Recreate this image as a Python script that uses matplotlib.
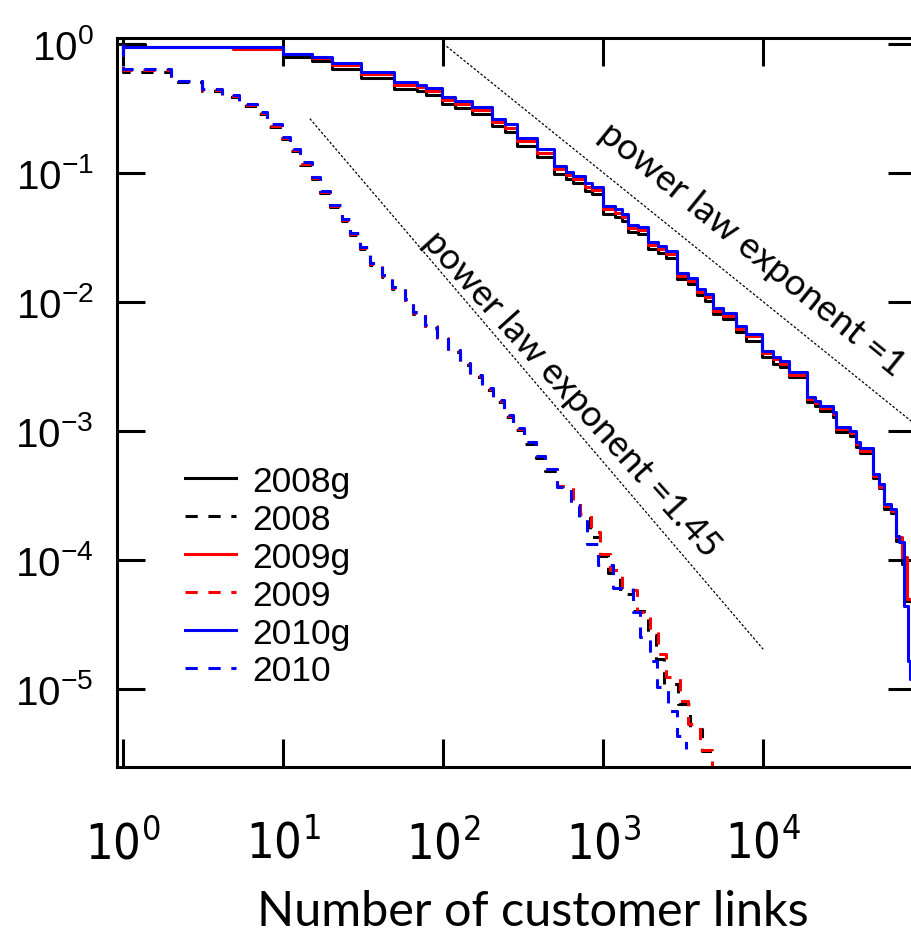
import matplotlib
matplotlib.use("Agg")
import matplotlib.pyplot as plt
from matplotlib.ticker import NullLocator

# solid curves ("g" datasets), step CCDF: x = break points, y = level after each break
x_2008g = [1, 1.37, 10, 15.2, 20.2, 30.7, 49.4, 68.8, 78.3, 98.6, 119, 152, 202, 244, 290, 387, 494, 587, 649, 772,
           854, 1000, 1189, 1315, 1433, 1655, 1910, 2206, 2476, 2900, 3397, 3868, 4340, 4870, 5623, 6776, 7830, 9860,
           11550, 12770, 14540, 18840, 21130, 22700, 27380, 28580, 34970, 38120, 40370, 48700, 53090, 57040, 63100,
           67760, 73300, 77500, 95000]
y_2008g = [1.0, 0.948, 0.78, 0.73, 0.64, 0.545, 0.445, 0.43, 0.40, 0.34, 0.318, 0.285, 0.228, 0.205, 0.162, 0.132, 0.098,
           0.089, 0.083, 0.072, 0.068, 0.048, 0.0455, 0.042, 0.0345, 0.0334, 0.0257, 0.0238, 0.0218, 0.0149, 0.0136,
           0.0112, 0.0102, 0.0080, 0.0073, 0.0058, 0.0050, 0.0037, 0.0033, 0.0031, 0.0026, 0.00167, 0.00156, 0.00142,
           0.00127, 0.00098, 0.00091, 0.00075, 0.00067, 0.00043, 0.00036, 0.00025, 0.00023, 0.000140, 0.0000935,
           0.000048, 0.000045]

x_2009g = [1, 4.9, 10, 15.2, 20.2, 30.7, 49.4, 68.8, 78.3, 98.6, 119, 152, 202, 244, 290, 387, 494, 587, 649, 772,
           854, 1000, 1189, 1315, 1433, 1655, 1910, 2206, 2476, 2900, 3397, 3868, 4340, 4870, 5623, 6776, 7830, 9860,
           11550, 12770, 14540, 18840, 21130, 22700, 27380, 28580, 34970, 38120, 40370, 48700, 53090, 57040, 63100,
           67760, 73300, 78900, 95000]
y_2009g = [0.948, 0.90, 0.837, 0.77, 0.68, 0.58, 0.48, 0.46, 0.43, 0.365, 0.34, 0.305, 0.245, 0.222, 0.175, 0.143, 0.106,
           0.096, 0.089, 0.078, 0.073, 0.052, 0.049, 0.045, 0.037, 0.0358, 0.0275, 0.0255, 0.0233, 0.0158, 0.0145, 0.0119,
           0.0108, 0.0085, 0.0078, 0.0062, 0.0054, 0.0040, 0.0036, 0.0033, 0.0027, 0.00176, 0.00164, 0.00149, 0.00134,
           0.00103, 0.00096, 0.00079, 0.00070, 0.00045, 0.00037, 0.00026, 0.00024, 0.000150, 0.000105, 0.000050,
           0.000050]

x_2010g = [1, 10, 15.2, 20.2, 30.7, 49.4, 68.8, 78.3, 98.6, 119, 152, 202, 244, 290, 387, 494, 587, 649, 772, 854,
           1000, 1189, 1315, 1433, 1655, 1910, 2206, 2476, 2900, 3397, 3868, 4340, 4870, 5623, 6776, 7830, 9860, 11550,
           12770, 14540, 18840, 21130, 22700, 27380, 28580, 34970, 38120, 40370, 48700, 53090, 57040, 63100, 67760,
           70800, 76040, 80560, 82950, 85000]
y_2010g = [0.948, 0.837, 0.793, 0.712, 0.607, 0.507, 0.481, 0.456, 0.388, 0.361, 0.325, 0.262, 0.236, 0.187, 0.153,
           0.113, 0.102, 0.0948, 0.0836, 0.0779, 0.0555, 0.0526, 0.0481, 0.0395, 0.0381, 0.0292, 0.0272, 0.0248, 0.0168,
           0.0153, 0.0126, 0.0115, 0.00898, 0.00822, 0.00652, 0.00565, 0.00417, 0.00375, 0.00349, 0.00287, 0.00184,
           0.00171, 0.00156, 0.00140, 0.00107, 0.00100, 0.000822, 0.000738, 0.000464, 0.000388, 0.000272, 0.000248,
           0.000154, 0.000138, 4.4e-5, 1.65e-5, 1.2e-5, 1.2e-5]

# dashed curves
x_2008 = [1, 1, 2.0, 3.12, 4.16, 5.31, 6.88, 7.94, 9.86, 11.06, 12.77, 15.2, 17.0, 19.7, 23.4, 26.2, 30.3, 35.0, 41.6,
          48.0, 57.9, 64.9, 77.2, 91.7, 107.5, 127.7, 147.5, 175.2, 205, 240, 274, 321, 381, 434,
          516, 631, 718, 829, 957, 1074, 1277, 1540, 1910, 2143, 2405, 2943, 3497, 4159, 4800]
y_2008 = [1.0, 0.60, 0.50, 0.43, 0.385, 0.328, 0.284, 0.225, 0.182, 0.146, 0.114, 0.089, 0.069, 0.054, 0.042, 0.0328,
          0.0256, 0.0193, 0.0155, 0.0125, 0.0100, 0.0080, 0.0063, 0.0051, 0.0041, 0.00323, 0.00262, 0.00207, 0.00167,
          0.00128, 0.00101, 0.00079, 0.00062, 0.00049,
          0.000375, 0.000282, 0.000219, 0.000151, 0.000107, 7.93e-5, 5.45e-5, 4.02e-5, 2.62e-5, 1.71e-5, 1.09e-5,
          7.66e-6, 4.9e-6, 3.3e-6, 2.19e-6]

x_2009 = [1, 1, 2.0, 3.12, 4.16, 5.31, 6.88, 7.94, 9.86, 11.06, 12.77, 15.2, 17.0, 19.7, 23.4, 26.2, 30.3, 35.0, 41.6,
          48.0, 57.9, 64.9, 77.2, 91.7, 107.5, 127.7, 147.5, 175.2, 205, 240, 274, 321, 381, 434, 516, 649, 718, 841,
          957, 1106, 1315, 1631, 1967, 2206, 2476, 3030, 3397, 4037, 4800]
y_2009 = [1.0, 0.62, 0.51, 0.44, 0.395, 0.336, 0.29, 0.231, 0.186, 0.150, 0.117, 0.091, 0.071, 0.0552, 0.0430, 0.0336,
          0.0262, 0.0197, 0.0159, 0.0128, 0.0103, 0.0082, 0.0065, 0.00525, 0.00418, 0.00331, 0.00268, 0.00212, 0.00171,
          0.00131, 0.00104, 0.000815, 0.000635, 0.000505, 0.000375, 0.000282, 0.000227, 0.000165, 0.000111, 8.35e-5,
          5.85e-5, 3.95e-5, 2.82e-5, 1.87e-5, 1.24e-5, 8.07e-6, 5.36e-6, 3.37e-6, 2.19e-6]

x_2010 = [1, 1, 2.0, 3.12, 4.16, 5.31, 6.88, 7.94, 9.86, 11.06, 12.77, 15.2, 17.0, 19.7, 23.4, 26.2, 30.3, 35.0, 41.6,
          48.0, 57.9, 64.9, 77.2, 91.7, 107.5, 127.7, 147.5, 175.2, 205, 240, 274, 321, 381, 434, 516, 631, 708, 794,
          931, 1155, 1540, 1702, 1967, 2175, 2547, 2900, 3303]
y_2010 = [1.0, 0.63, 0.517, 0.448, 0.402, 0.343, 0.297, 0.236, 0.190, 0.153, 0.120, 0.0931, 0.0725, 0.0565, 0.0440,
          0.0343, 0.0267, 0.0201, 0.0162, 0.0131, 0.0105, 0.00836, 0.00663, 0.00535, 0.00425, 0.00337, 0.00272, 0.00215,
          0.00174, 0.00133, 0.00105, 0.000822, 0.000640, 0.000507, 0.000368, 0.000267, 0.000201, 0.000133, 9.15e-5,
          6.07e-5, 3.95e-5, 2.53e-5, 1.65e-5, 1.04e-5, 6.75e-6, 4.32e-6, 3.43e-6]

# reference power-law guide lines
guide1_x = [100, 90000]
guide1_y = [1.0, 0.00111]
guide2_x = [14.7, 10000]
guide2_y = [0.262, 2.03e-5]

xticks = [1, 10, 100, 1000, 10000]
xticklabels = [r"$\mathregular{10^{0}}$", r"$\mathregular{10^{1}}$", r"$\mathregular{10^{2}}$",
               r"$\mathregular{10^{3}}$", r"$\mathregular{10^{4}}$"]
yticks = [1e-5, 1e-4, 1e-3, 1e-2, 1e-1, 1]
yticklabels = [r"$\mathregular{10^{-5}}$", r"$\mathregular{10^{-4}}$", r"$\mathregular{10^{-3}}$",
               r"$\mathregular{10^{-2}}$", r"$\mathregular{10^{-1}}$", r"$\mathregular{10^{0}}$"]

fig = plt.figure(figsize=(9.12, 9.37), dpi=100)
ax = fig.add_axes([0.1283, 0.1807, 0.876, 0.778])
ax.set_xscale("log")
ax.set_yscale("log")

lw = 2.2
dash = (0, (4, 3.5))
ax.plot(x_2008g, y_2008g, drawstyle="steps-post", color="black", lw=lw, label="2008g")
ax.plot(x_2008, y_2008, drawstyle="steps-post", color="black", lw=lw, ls=dash, label="2008")
ax.plot(x_2009g, y_2009g, drawstyle="steps-post", color="red", lw=lw, label="2009g")
ax.plot(x_2009, y_2009, drawstyle="steps-post", color="red", lw=lw, ls=dash, label="2009")
ax.plot(x_2010g, y_2010g, drawstyle="steps-post", color="blue", lw=lw, label="2010g")
ax.plot(x_2010, y_2010, drawstyle="steps-post", color="blue", lw=lw, ls=dash, label="2010")

ax.plot(guide1_x, guide1_y, color="black", lw=0.9, ls=(0, (2, 1.5)))
ax.plot(guide2_x, guide2_y, color="black", lw=0.9, ls=(0, (2, 1.5)))

ax.text(8500, 0.0258, "power law exponent =1", rotation=-39, rotation_mode="anchor",
        ha="center", va="center", fontsize=26.5, family="Lato")
ax.text(640, 0.00194, "power law exponent =1.45", rotation=-48, rotation_mode="anchor",
        ha="center", va="center", fontsize=26, family="Lato")

ax.set_xlim(0.917, 9e4)
ax.set_ylim(2.5e-6, 1.11)
ax.xaxis.set_minor_locator(NullLocator())
ax.yaxis.set_minor_locator(NullLocator())
ax.set_xticks(xticks)
ax.set_xticklabels(xticklabels, fontsize=35, family="DejaVu Sans", stretch="condensed")
ax.set_yticks(yticks)
ax.set_yticklabels(yticklabels, fontsize=29, family="Liberation Sans")
ax.tick_params(which="major", direction="in", length=20, width=2.2, top=True, right=True)
ax.tick_params(axis="x", pad=38)
ax.tick_params(axis="y", pad=17)
for s in ax.spines.values():
    s.set_linewidth(2.2)

leg = ax.legend(loc="upper left", bbox_to_anchor=(0.203, 0.503), bbox_transform=fig.transFigure,
                frameon=False, handlelength=1.45, handletextpad=0.45, labelspacing=0.14,
                borderpad=0, borderaxespad=0, prop={"family": "Liberation Sans", "size": 25.5})

fig.text(0.584, 0.027, "Number of customer links", ha="center", va="center", fontsize=35, family="Lato")

fig.savefig("out.png", dpi=100)
